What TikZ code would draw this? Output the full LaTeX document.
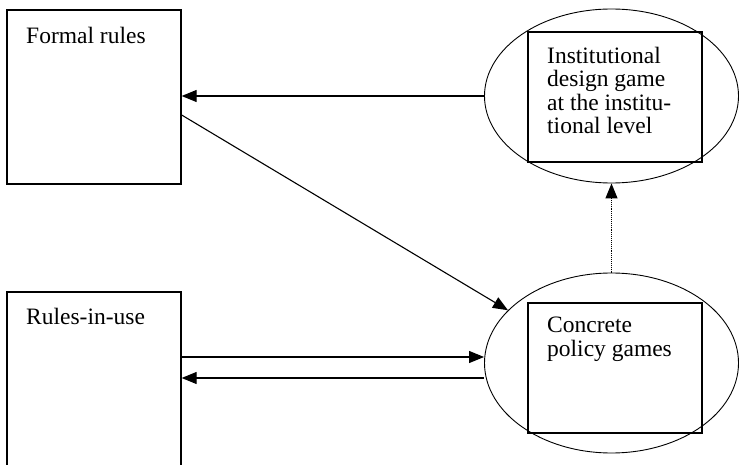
\documentclass[tikz,border=0pt]{standalone}
\usepackage{fontspec}
\setmainfont{Liberation Serif}
\usepackage{tikz}
\usetikzlibrary{arrows.meta, shapes.geometric}
\tikzset{
    rulebox/.style={draw, line width=1.3pt, minimum width=174pt, minimum height=174pt, inner sep=0pt},
    gamebox/.style={draw, line width=1.3pt, minimum width=174pt, minimum height=130pt, inner sep=0pt},
    level/.style={draw, ellipse, line width=0.9pt, minimum width=254pt, inner sep=0pt},
    boxtext/.style={anchor=north west, inner sep=0pt, align=left, font=\fontsize{23.5}{23.3}\selectfont},
    arr/.style={line width=1.1pt, -{Triangle[length=15pt, width=12pt]}}
}

\begin{document}
\begin{tikzpicture}[x=1pt, y=1pt]
            \useasboundingbox (0,0) rectangle (739,464);

            % the two kinds of rules
            \node[rulebox] (formal) at (94,367) {};
            \node[rulebox, minimum height=180pt] (rules) at (94,82) {};
            \node[boxtext] (formaltxt) at (26,437) {Formal rules};
            \node[boxtext] (rulestxt) at (26,156) {Rules-in-use};

            % the two game levels
            \node[level, minimum height=174pt] (design) at (611.5,368) {};
            \node[gamebox] (designbox) at (615,367) {};
            \node[boxtext] (designtxt) at (547,417) {Institutional\\design game\\at the institu-\\tional level};

            \node[level, minimum height=180pt] (policy) at (611.5,101) {};
            \node[gamebox] (policybox) at (615,96) {};
            \node[boxtext] (policytxt) at (547,147) {Concrete\\policy games};

            % connections
            \coordinate (fr) at ([yshift=-18pt]formal.east);
            \coordinate (fwd) at ([yshift=6pt]policy.west);
            \coordinate (back) at ([yshift=-15pt]policy.west);

            \draw[arr] (design.west) -- (design.west -| formal.east);
            \draw[arr] (fr) -- (policy.153);
            \draw[arr] (rules.east |- fwd) -- (fwd);
            \draw[arr] (back) -- (rules.east |- back);
            \draw[arr, densely dotted] (policy.north) -- (design.south);
        \end{tikzpicture}
\end{document}
